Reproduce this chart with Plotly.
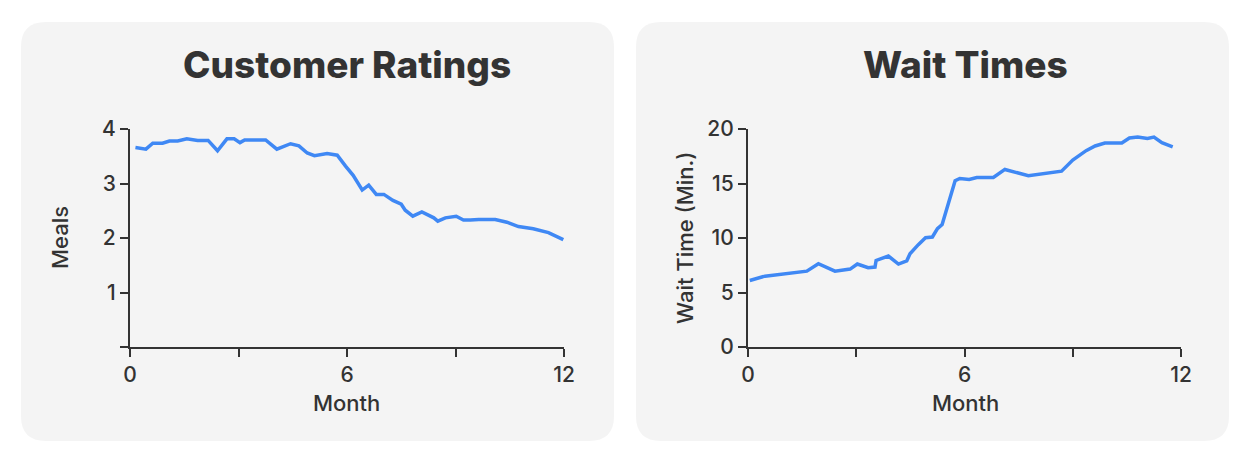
import plotly.graph_objects as go

# Customer Ratings (left panel)
rating_month = [0.15, 0.44, 0.63, 0.90, 1.09, 1.32, 1.57, 1.87, 2.16, 2.42, 2.68, 2.88,
                3.04, 3.17, 3.75, 4.06, 4.44, 4.67, 4.90, 5.10, 5.45, 5.73, 5.96, 6.17,
                6.42, 6.60, 6.81, 7.02, 7.27, 7.50, 7.61, 7.82, 8.07, 8.40, 8.51, 8.72,
                9.02, 9.22, 9.41, 9.64, 10.10, 10.42, 10.74, 11.15, 11.57, 11.98]
rating_value = [3.66, 3.63, 3.74, 3.74, 3.78, 3.78, 3.82, 3.79, 3.79, 3.60, 3.82, 3.82,
                3.75, 3.80, 3.80, 3.63, 3.73, 3.69, 3.56, 3.51, 3.55, 3.52, 3.32, 3.15,
                2.88, 2.97, 2.80, 2.80, 2.69, 2.62, 2.51, 2.40, 2.48, 2.37, 2.31, 2.37,
                2.40, 2.33, 2.33, 2.34, 2.34, 2.29, 2.21, 2.17, 2.10, 1.97]

# Wait Times (right panel)
wait_month = [0.05, 0.47, 1.63, 1.95, 2.41, 2.83, 3.03, 3.33, 3.52, 3.55, 3.89, 4.17,
              4.40, 4.49, 4.72, 4.92, 5.11, 5.25, 5.38, 5.74, 5.87, 6.13, 6.34, 6.80,
              7.12, 7.77, 8.69, 9.00, 9.37, 9.62, 9.89, 10.36, 10.57, 10.80, 11.07,
              11.25, 11.47, 11.77]
wait_value = [6.10, 6.50, 6.96, 7.64, 6.96, 7.15, 7.61, 7.27, 7.33, 7.94, 8.34, 7.61,
              7.91, 8.56, 9.39, 10.03, 10.09, 10.86, 11.23, 15.25, 15.46, 15.37, 15.55,
              15.55, 16.29, 15.71, 16.13, 17.15, 18.01, 18.44, 18.71, 18.71, 19.17,
              19.26, 19.14, 19.26, 18.74, 18.37]

month_ticks = [0, 3, 6, 9, 12]
month_labels = ["0", "", "6", "", "12"]
rating_ticks = [0, 1, 2, 3, 4]
rating_labels = ["", "1", "2", "3", "4"]
wait_ticks = [0, 5, 10, 15, 20]
wait_labels = ["0", "5", "10", "15", "20"]

# the page body has an 8px margin, so the figure is drawn 8px in from the corner
OFF = 8
W, H = 1251 - OFF, 463 - OFF
FONT = "Inter"
TEXT = "#333333"
LINE_BLUE = "#3f88f4"
PANEL = "#f4f4f4"


def px_x(v):
    return (v - OFF) / W


def px_y(v):
    return 1 - (v - OFF) / H


def rounded_rect(x0, y0, x1, y1, r):
    # path in paper coords built from pixel positions
    def p(x, y):
        return f"{px_x(x)},{px_y(y)}"
    return (f"M {p(x0 + r, y0)} L {p(x1 - r, y0)} Q {p(x1, y0)} {p(x1, y0 + r)} "
            f"L {p(x1, y1 - r)} Q {p(x1, y1)} {p(x1 - r, y1)} "
            f"L {p(x0 + r, y1)} Q {p(x0, y1)} {p(x0, y1 - r)} "
            f"L {p(x0, y0 + r)} Q {p(x0, y0)} {p(x0 + r, y0)} Z")


def label(text, x, y, size, weight=500, angle=0):
    return dict(text=text, x=px_x(x), y=px_y(y), xref="paper", yref="paper",
                showarrow=False, xanchor="center", yanchor="middle", textangle=angle,
                font=dict(family=FONT, size=size, color=TEXT, weight=weight))


fig = go.Figure()

fig.add_trace(go.Scatter(x=rating_month, y=rating_value, mode="lines",
                         line=dict(color=LINE_BLUE, width=3.5),
                         xaxis="x", yaxis="y", showlegend=False))
fig.add_trace(go.Scatter(x=wait_month, y=wait_value, mode="lines",
                         line=dict(color=LINE_BLUE, width=3.5),
                         xaxis="x2", yaxis="y2", showlegend=False))

axis_common = dict(
    showline=True, linecolor=TEXT, linewidth=2,
    ticks="outside", ticklen=8, tickwidth=1.5, tickcolor=TEXT,
    showgrid=False, zeroline=False, automargin=False,
    tickfont=dict(family=FONT, size=21, color=TEXT, weight=500),
)

x_common = dict(axis_common, range=[0, 12], tickvals=month_ticks, ticktext=month_labels)

plot_y = [px_y(347), px_y(129)]

fig.update_layout(
    width=W, height=H,
    margin=dict(l=0, r=0, t=0, b=0),
    paper_bgcolor="white",
    plot_bgcolor="rgba(0,0,0,0)",
    font=dict(family=FONT, color=TEXT),
    xaxis=dict(x_common, domain=[px_x(130), px_x(564)], anchor="y"),
    yaxis=dict(axis_common, domain=plot_y, range=[0, 4], anchor="x",
               tickvals=rating_ticks, ticktext=rating_labels),
    xaxis2=dict(x_common, domain=[px_x(748), px_x(1181)], anchor="y2"),
    yaxis2=dict(axis_common, domain=plot_y, range=[0, 20], anchor="x2",
                tickvals=wait_ticks, ticktext=wait_labels),
    shapes=[
        dict(type="path", xref="paper", yref="paper", layer="below",
             path=rounded_rect(21, 22, 614, 441, 25), fillcolor=PANEL, line=dict(width=0)),
        dict(type="path", xref="paper", yref="paper", layer="below",
             path=rounded_rect(636, 22, 1229, 441, 25), fillcolor=PANEL, line=dict(width=0)),
    ],
    annotations=[
        label("Customer Ratings", 347, 64, 37, weight=800),
        label("Wait Times", 965, 64, 37, weight=800),
        label("Month", 346, 403, 22),
        label("Month", 965, 403, 22),
        label("Meals", 60, 238, 22, angle=-90),
        label("Wait Time (Min.)", 685, 238, 22, angle=-90),
    ],
)

fig.write_html("out.html")
